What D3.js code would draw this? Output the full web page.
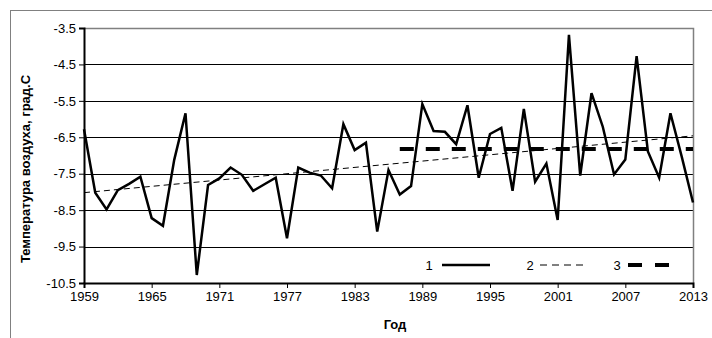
<!DOCTYPE html>
<html>
<head>
<meta charset="utf-8">
<script src="https://cdn.jsdelivr.net/npm/d3@7"></script>
<style>
  html, body { margin: 0; padding: 0; background: #fff; }
  svg { display: block; }
  text { font-family: "Liberation Sans", Arial, sans-serif; fill: #000; }
</style>
</head>
<body>
<svg id="chart" width="712" height="338"></svg>
<script>
// ---- data ----
const years = d3.range(1959, 2014);
const temps = [
  -6.28, -8.02, -8.48, -7.95, -7.78, -7.58, -8.72, -8.93, -7.12, -5.84,
  -10.28, -7.81, -7.63, -7.33, -7.53, -7.97, -7.79, -7.61, -9.27, -7.33,
  -7.47, -7.55, -7.90, -6.14, -6.85, -6.65, -9.09, -7.40, -8.07, -7.84,
  -5.59, -6.33, -6.35, -6.69, -5.62, -7.61, -6.41, -6.24, -7.97, -5.72,
  -7.72, -7.22, -8.77, -3.69, -7.55, -5.29, -6.21, -7.52, -7.11, -4.27,
  -6.89, -7.61, -5.84, -7.03, -8.29
];
const trendYears = [1959, 2013];
const trendValues = [-8.02, -6.46];
const meanYears = [1987, 2013];
const meanValues = [-6.82, -6.82];
const xTicks = [1959, 1965, 1971, 1977, 1983, 1989, 1995, 2001, 2007, 2013];
const yTicks = [-10.5, -9.5, -8.5, -7.5, -6.5, -5.5, -4.5, -3.5];
const legendLabels = ["1", "2", "3"];
const yTitle = "Температура воздуха, град.С";
const xTitle = "Год";

// ---- layout ----
const svg = d3.select("#chart");
const L = 84, R = 693, T = 28, B = 283;
const x = d3.scaleLinear().domain([1959, 2013]).range([L, R]);
const y = d3.scaleLinear().domain([-10.5, -3.5]).range([B, T]);

// outer border
svg.append("rect").attr("x", 10.5).attr("y", 10.5).attr("width", 720).attr("height", 340)
  .attr("fill", "none").attr("stroke", "#808080").attr("stroke-width", 1);

// gridlines
svg.append("g").selectAll("line").data(yTicks.slice(0, -1)).join("line")
  .attr("x1", L).attr("x2", R)
  .attr("y1", d => Math.round(y(d)) + 0.5).attr("y2", d => Math.round(y(d)) + 0.5)
  .attr("stroke", "#000").attr("stroke-width", 1);

// plot border top/right (gray)
svg.append("path")
  .attr("d", `M${L},${T + 0.5}H${R + 0.5}V${B}`)
  .attr("fill", "none").attr("stroke", "#808080").attr("stroke-width", 1.5);

// axes
const yAxis = d3.axisLeft(y).tickValues(yTicks).tickSize(5).tickPadding(3)
  .tickFormat(d => d.toFixed(1));
const gy = svg.append("g").attr("transform", `translate(${L},0)`).call(yAxis);
gy.select(".domain").attr("stroke", "#000").attr("stroke-width", 2);
gy.selectAll(".tick line").attr("stroke", "#000").attr("stroke-width", 1);
gy.selectAll(".tick text").attr("font-size", 13).attr("font-family", "Liberation Sans, Arial, sans-serif");

const xAxis = d3.axisBottom(x).tickValues(xTicks).tickSize(5).tickPadding(4)
  .tickFormat(d => String(d));
const gx = svg.append("g").attr("transform", `translate(0,${B})`).call(xAxis);
gx.select(".domain").attr("stroke", "#000").attr("stroke-width", 2);
gx.selectAll(".tick line").attr("stroke", "#000").attr("stroke-width", 1);
gx.selectAll(".tick text").attr("font-size", 13).attr("font-family", "Liberation Sans, Arial, sans-serif");

// series
const line = d3.line().x(d => x(d[0])).y(d => y(d[1]));

svg.append("path")
  .datum(d3.zip(meanYears, meanValues))
  .attr("d", line).attr("fill", "none")
  .attr("stroke", "#000").attr("stroke-width", 4).attr("stroke-dasharray", "14,12");

svg.append("path")
  .datum(d3.zip(trendYears, trendValues))
  .attr("d", line).attr("fill", "none")
  .attr("stroke", "#000").attr("stroke-width", 1).attr("stroke-dasharray", "6,4");

svg.append("path")
  .datum(d3.zip(years, temps))
  .attr("d", line).attr("fill", "none")
  .attr("stroke", "#000").attr("stroke-width", 2.5).attr("stroke-linejoin", "miter");

// legend
const legend = [
  {lab: legendLabels[0], tx: 429, x1: 442, x2: 490, w: 2.5, dash: null},
  {lab: legendLabels[1], tx: 530, x1: 540, x2: 584, w: 1, dash: "7,5"},
  {lab: legendLabels[2], tx: 617, x1: 628, x2: 670, w: 4, dash: "14,13"}
];
const lg = svg.append("g");
legend.forEach(d => {
  lg.append("text").attr("x", d.tx).attr("y", 270).attr("text-anchor", "middle")
    .attr("font-size", 13).text(d.lab);
  lg.append("line").attr("x1", d.x1).attr("x2", d.x2).attr("y1", 265).attr("y2", 265)
    .attr("stroke", "#000").attr("stroke-width", d.w)
    .attr("stroke-dasharray", d.dash);
});

// titles
svg.append("text").attr("transform", "translate(30,169) rotate(-90)")
  .attr("text-anchor", "middle").attr("font-size", 13).attr("font-weight", "bold")
  .text(yTitle);
svg.append("text").attr("x", 395).attr("y", 329)
  .attr("text-anchor", "middle").attr("font-size", 13).attr("font-weight", "bold")
  .text(xTitle);
</script>
</body>
</html>
